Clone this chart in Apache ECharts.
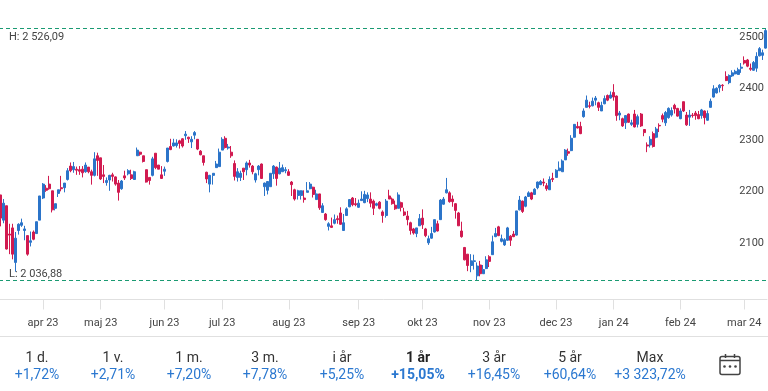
<!DOCTYPE html>
<html>
<head>
<meta charset="utf-8">
<style>
  html, body { margin: 0; padding: 0; background: #fff; }
  #chart { width: 768px; height: 391px; }
</style>
</head>
<body>
<div id="chart"></div>
<script src="https://cdn.jsdelivr.net/npm/echarts@6/dist/echarts.min.js"></script>
<script>
const open = [
  2203,2154,2182,2127,2139,2072,2134,2144,2134,2124,
  2111,2131,2128,2154,2197,2216,2224,2211,2177,2206,
  2217,2217,2233,2259,2252,2253,2252,2253,2248,2257,
  2248,2241,2279,2275,2242,2227,2232,2242,2238,2226,
  2215,2240,2244,2242,2233,2279,2286,2279,2252,2237,
  2241,2284,2261,2242,2249,2268,2297,2298,2299,2308,
  2312,2318,2315,2306,2319,2311,2288,2279,2247,2224,
  2241,2256,2258,2290,2313,2294,2286,2264,2237,2237,
  2255,2252,2265,2259,2232,2252,2263,2219,2212,2219,
  2244,2257,2244,2248,2250,2248,2228,2213,2202,2202,
  2197,2208,2215,2218,2194,2205,2169,2166,2142,2143,
  2148,2157,2168,2134,2163,2180,2197,2186,2179,2192,
  2188,2196,2195,2191,2183,2189,2170,2163,2201,2195,
  2183,2177,2188,2170,2162,2149,2137,2128,2143,2158,
  2137,2110,2119,2131,2147,2155,2185,2207,2207,2195,
  2186,2168,2133,2101,2088,2066,2074,2046,2067,2050,
  2060,2083,2087,2122,2141,2113,2106,2115,2123,2127,
  2125,2174,2191,2181,2200,2207,2204,2217,2223,2228,
  2221,2213,2235,2237,2250,2248,2271,2287,2289,2315,
  2336,2336,2355,2373,2376,2376,2387,2382,2366,2380,
  2396,2391,2402,2395,2358,2351,2343,2360,2340,2360,
  2340,2360,2330,2300,2300,2322,2315,2338,2357,2343,
  2353,2358,2377,2371,2351,2384,2358,2354,2358,2362,
  2359,2357,2366,2348,2373,2393,2401,2411,2416,2433,
  2421,2434,2438,2437,2449,2464,2465,2449,2445,2449,
  2473,2474,2488
]
const close = [
  2158,2187,2098,2125,2088,2119,2146,2149,2137,2088,
  2114,2117,2151,2201,2224,2212,2215,2174,2186,2213,
  2215,2226,2250,2250,2258,2251,2249,2246,2261,2248,
  2241,2273,2270,2234,2239,2231,2241,2239,2224,2208,
  2230,2236,2250,2235,2248,2290,2282,2268,2228,2231,
  2273,2256,2253,2235,2253,2294,2291,2304,2304,2303,
  2298,2321,2312,2311,2324,2292,2281,2266,2234,2241,
  2245,2263,2286,2311,2295,2296,2279,2239,2248,2245,
  2248,2265,2261,2248,2244,2259,2235,2226,2229,2245,
  2259,2235,2255,2256,2252,2241,2223,2195,2211,2211,
  2194,2211,2224,2204,2205,2178,2182,2155,2147,2140,
  2155,2155,2146,2149,2176,2194,2184,2184,2187,2195,
  2204,2203,2187,2177,2186,2177,2163,2191,2195,2186,
  2176,2203,2179,2164,2155,2134,2129,2139,2157,2145,
  2124,2118,2128,2155,2133,2193,2195,2213,2190,2190,
  2173,2143,2122,2077,2066,2075,2075,2065,2050,2058,
  2077,2074,2112,2128,2124,2118,2116,2139,2115,2122,
  2172,2193,2171,2199,2207,2195,2214,2228,2229,2226,
  2215,2233,2233,2251,2255,2269,2290,2284,2313,2340,
  2333,2322,2366,2387,2375,2385,2391,2373,2377,2390,
  2387,2397,2393,2357,2362,2337,2357,2344,2343,2335,
  2355,2337,2324,2298,2311,2297,2331,2337,2350,2363,
  2371,2367,2370,2356,2366,2366,2339,2358,2357,2357,
  2351,2368,2353,2361,2385,2409,2410,2416,2415,2425,
  2435,2440,2443,2446,2451,2459,2453,2447,2460,2472,
  2487,2479,2522
]
const low = [
  2142,2148,2097,2088,2078,2054,2126,2141,2115,2085,
  2103,2115,2128,2154,2195,2209,2213,2169,2173,2199,
  2210,2208,2231,2247,2246,2242,2242,2237,2246,2245,
  2223,2239,2240,2232,2226,2221,2211,2229,2221,2192,
  2213,2232,2241,2232,2232,2279,2279,2266,2227,2223,
  2239,2253,2253,2234,2240,2266,2290,2297,2295,2293,
  2295,2310,2304,2294,2311,2290,2280,2260,2226,2208,
  2223,2256,2258,2290,2293,2291,2275,2231,2229,2230,
  2232,2241,2256,2243,2227,2241,2234,2201,2204,2219,
  2234,2221,2243,2248,2245,2240,2201,2192,2194,2194,
  2188,2208,2214,2198,2194,2174,2168,2153,2134,2139,
  2146,2147,2145,2134,2163,2179,2181,2181,2178,2192,
  2187,2189,2179,2164,2181,2175,2149,2159,2195,2184,
  2174,2177,2171,2162,2144,2126,2126,2121,2143,2137,
  2121,2106,2118,2130,2132,2155,2184,2206,2188,2180,
  2157,2143,2120,2076,2055,2053,2058,2037,2045,2050,
  2059,2063,2087,2121,2123,2111,2104,2114,2104,2121,
  2124,2173,2168,2179,2199,2193,2203,2214,2222,2220,
  2211,2213,2228,2237,2250,2248,2271,2279,2288,2314,
  2332,2321,2353,2373,2371,2375,2377,2366,2366,2379,
  2385,2390,2386,2347,2348,2335,2331,2343,2337,2334,
  2334,2335,2317,2286,2295,2295,2313,2325,2344,2337,
  2351,2355,2361,2355,2350,2364,2337,2337,2353,2349,
  2350,2351,2340,2347,2373,2392,2400,2402,2405,2424,
  2418,2432,2437,2436,2440,2456,2451,2444,2444,2442,
  2472,2465,2487
]
const high = [
  2203,2195,2182,2147,2147,2131,2148,2157,2143,2124,
  2132,2134,2151,2201,2226,2222,2240,2211,2186,2213,
  2240,2226,2255,2266,2267,2258,2259,2259,2266,2257,
  2252,2286,2285,2275,2261,2237,2242,2246,2239,2232,
  2232,2250,2253,2252,2250,2295,2287,2279,2252,2237,
  2277,2284,2261,2259,2258,2294,2312,2312,2311,2310,
  2313,2327,2316,2317,2327,2311,2290,2279,2248,2242,
  2245,2269,2293,2315,2317,2302,2298,2270,2255,2250,
  2255,2268,2271,2261,2246,2261,2264,2227,2230,2245,
  2261,2258,2267,2262,2257,2253,2230,2215,2213,2212,
  2212,2228,2228,2219,2213,2205,2187,2168,2150,2159,
  2165,2163,2179,2166,2179,2195,2199,2197,2194,2210,
  2211,2208,2208,2194,2188,2191,2173,2195,2213,2198,
  2192,2208,2190,2178,2172,2151,2139,2139,2166,2175,
  2139,2124,2141,2155,2153,2195,2199,2236,2210,2202,
  2187,2170,2151,2102,2088,2088,2087,2072,2075,2067,
  2084,2086,2124,2139,2143,2126,2119,2141,2125,2133,
  2172,2201,2192,2201,2210,2209,2216,2229,2232,2235,
  2226,2239,2246,2253,2268,2272,2292,2293,2319,2340,
  2345,2345,2371,2396,2384,2392,2395,2384,2384,2396,
  2398,2404,2418,2396,2366,2353,2358,2361,2349,2368,
  2359,2362,2330,2305,2317,2326,2335,2342,2361,2366,
  2373,2373,2380,2372,2371,2384,2364,2368,2362,2366,
  2366,2370,2367,2367,2390,2416,2412,2418,2418,2443,
  2437,2445,2446,2450,2459,2472,2467,2458,2463,2480,
  2490,2485,2526
]

const monthLabels = ['apr 23', 'maj 23', 'jun 23', 'jul 23', 'aug 23', 'sep 23', 'okt 23', 'nov 23', 'dec 23', 'jan 24', 'feb 24', 'mar 24']
const monthStarts = [14, 33, 54, 73, 95, 118, 139, 161, 183, 202, 224, 245]
const priceTicks = [2100, 2200, 2300, 2400, 2500]

const highValue = 2526.09
const lowValue = 2036.88
const highLabel = 'H: 2 526,09'
const lowLabel = 'L: 2 036,88'

const periodLabels = ['1 d.', '1 v.', '1 m.', '3 m.', 'i år', '1 år', '3 år', '5 år', 'Max']
const periodChanges = ['+1,72%', '+2,71%', '+7,20%', '+7,78%', '+5,25%', '+15,05%', '+16,45%', '+60,64%', '+3 323,72%']
const activePeriod = 5

const font = 'Roboto'
const blue = '#2b74c9'
const red = '#d11a50'
const teal = '#1a9a72'
const gray = '#e0e0e0'
const textColor = '#444'

const periodX = [37, 113, 189, 265, 342, 418, 494, 570, 650]

const categories = open.map((_, i) => {
  const m = monthStarts.indexOf(i)
  return m >= 0 ? monthLabels[m] : ''
})
const candles = open.map((o, i) => [o, close[i], low[i], high[i]])

const periodText = []
periodLabels.forEach((label, i) => {
  const active = i === activePeriod
  periodText.push({
    type: 'text',
    x: periodX[i],
    y: 358,
    style: {
      text: label,
      fill: active ? '#222' : '#333',
      font: (active ? 'bold ' : '') + '14px ' + font,
      align: 'center',
      verticalAlign: 'middle',
    },
  })
  periodText.push({
    type: 'text',
    x: periodX[i],
    y: 375,
    style: {
      text: periodChanges[i],
      fill: '#2b78d0',
      font: (active ? 'bold ' : '') + '14px ' + font,
      align: 'center',
      verticalAlign: 'middle',
    },
  })
})

// calendar button
const iconLine = { stroke: textColor, lineWidth: 1.5, fill: null }
const calendarIcon = [
  { type: 'rect', shape: { x: 720, y: 356.5, width: 20, height: 18, r: 2 }, style: iconLine },
  { type: 'line', shape: { x1: 720, y1: 360.5, x2: 740, y2: 360.5 }, style: iconLine },
  { type: 'line', shape: { x1: 725.5, y1: 354, x2: 725.5, y2: 358 }, style: iconLine },
  { type: 'line', shape: { x1: 734.5, y1: 354, x2: 734.5, y2: 358 }, style: iconLine },
  { type: 'circle', shape: { cx: 724.5, cy: 366.5, r: 1.3 }, style: { fill: textColor } },
  { type: 'circle', shape: { cx: 730, cy: 366.5, r: 1.3 }, style: { fill: textColor } },
  { type: 'circle', shape: { cx: 735.5, cy: 366.5, r: 1.3 }, style: { fill: textColor } },
]

const chart = echarts.init(document.getElementById('chart'), null, { renderer: 'canvas' })

const dashed = { color: teal, type: [4, 3], width: 1 }

chart.setOption({
  animation: false,
  textStyle: { fontFamily: font },
  grid: { left: -1, width: 768, top: -9.573, height: 309.073, outerBoundsMode: 'none' },
  xAxis: {
    type: 'category',
    data: categories,
    axisLine: { lineStyle: { color: gray, width: 1 } },
    axisTick: {
      show: true,
      alignWithLabel: true,
      length: 10,
      interval: (i, v) => v !== '',
      lineStyle: { color: gray, width: 1 },
    },
    axisLabel: {
      interval: (i, v) => v !== '',
      margin: 18,
      fontFamily: font,
      fontSize: 11,
      color: textColor,
      hideOverlap: false,
    },
    splitLine: { show: false },
  },
  yAxis: {
    type: 'value',
    position: 'right',
    min: 2000,
    max: 2600,
    interval: 100,
    axisLine: { show: false },
    axisTick: { show: false },
    splitLine: { show: false },
    axisLabel: {
      inside: true,
      margin: 3,
      verticalAlign: 'bottom',
      lineHeight: 10,
      fontFamily: font,
      fontSize: 11,
      color: textColor,
      formatter: (v) => (priceTicks.includes(v) ? String(v) : ''),
    },
  },
  series: [
    {
      type: 'candlestick',
      data: candles,
      barWidth: 2.5,
      clip: false,
      itemStyle: {
        color: blue,
        color0: red,
        borderColor: blue,
        borderColor0: red,
        borderWidth: 1,
      },
      markLine: {
        silent: true,
        symbol: 'none',
        animation: false,
        lineStyle: dashed,
        data: [
          {
            yAxis: highValue,
            lineStyle: dashed,
            label: { formatter: highLabel, position: 'insideStartBottom', distance: [10, 3.5] },
          },
          {
            yAxis: lowValue,
            lineStyle: dashed,
            label: { formatter: lowLabel, position: 'insideStartTop', distance: [10, 0.5] },
          },
        ],
        label: {
          fontFamily: font,
          fontSize: 11,
          color: textColor,
        },
      },
    },
  ],
  graphic: [
    {
      type: 'line',
      shape: { x1: 0, y1: 336.5, x2: 768, y2: 336.5 },
      style: { stroke: gray, lineWidth: 1 },
    },
    ...periodText,
    ...calendarIcon,
  ],
})
</script>
</body>
</html>
